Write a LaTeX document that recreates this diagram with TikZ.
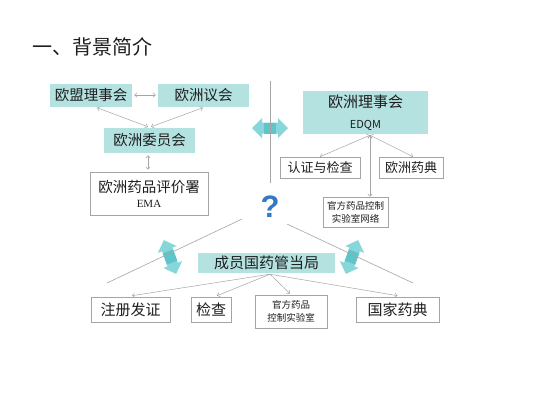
\documentclass[tikz,border=0pt]{standalone}
\usepackage{fontspec}
\setmainfont{Liberation Serif}
\newfontfamily\cjk{Noto Sans CJK SC}
\newfontfamily\qfont{Liberation Sans}
\usetikzlibrary{arrows.meta}
\definecolor{tealbox}{RGB}{180,226,225}
\definecolor{tealarr}{RGB}{135,215,218}
\definecolor{tealdark}{RGB}{95,197,202}
\definecolor{linegray}{RGB}{165,165,165}
\definecolor{txt}{RGB}{30,30,30}
\definecolor{qblue}{RGB}{52,120,196}
\tikzset{
  dblarrow/.pic={
    \fill[tealarr] (-18,0) -- (-8,-10) -- (-8,-5.5) -- (8,-5.5) -- (8,-10) -- (18,0)
      -- (8,10) -- (8,5.5) -- (-8,5.5) -- (-8,10) -- cycle;
    \fill[tealdark] (-6,-5.5) rectangle (6,5.5);
  },
  tbox/.style={fill=tealbox, inner sep=0pt, text=txt, align=center,
    font=\cjk\fontsize{14.5}{16}\selectfont},
  wbox/.style={draw=linegray, line width=0.6pt, fill=white, inner sep=0pt,
    text=txt, align=center},
  conn/.style={draw=linegray, line width=0.5pt,
    {Straight Barb[length=2.5pt,width=4.5pt]}-{Straight Barb[length=2.5pt,width=4.5pt]}},
  oneway/.style={draw=linegray, line width=0.5pt,
    -{Straight Barb[length=2.5pt,width=4.5pt]}},
  gline/.style={draw=linegray, line width=0.6pt},
}
\begin{document}
\begin{tikzpicture}[x=1pt,y=-1pt]
\fill[white] (0,0) rectangle (533,400);
\useasboundingbox (0,0) rectangle (533,400);

% title
\node[anchor=west, inner sep=0pt, text=txt, font=\cjk\fontsize{20}{22}\selectfont] (title) at (32,46.5) {一、背景简介};

% big teal arrows
\pic at (270,128) {dblarrow};
\pic[rotate=-70] at (170,257) {dblarrow};
\pic[rotate=70] at (352,257) {dblarrow};

% gray lines
\coordinate (v1) at (270,81);
\coordinate (v2) at (270,183);
\coordinate (l1a) at (242,219);
\coordinate (l1b) at (107,283);
\coordinate (l2a) at (287,224);
\coordinate (l2b) at (413,283);
\draw[gline] (v1) -- (v2);
\draw[gline] (l1a) -- (l1b);
\draw[gline] (l2a) -- (l2b);

% EU side
\node[tbox, minimum width=82pt, minimum height=23pt] (eu1) at (91,95) {欧盟理事会};
\node[tbox, minimum width=91pt, minimum height=23pt] (eu2) at (203.5,95) {欧洲议会};
\node[tbox, minimum width=91pt, minimum height=25pt] (ec) at (149.5,140.5) {欧洲委员会};
\node[wbox, minimum width=118pt, minimum height=43pt] (ema) at (149,193.5)
  {{\cjk\fontsize{14.5}{16}\selectfont 欧洲药品评价署}\\[3pt]{\fontsize{11}{12}\selectfont EMA}};

\draw[conn] ([xshift=2pt]eu1.east) -- ([xshift=-2pt]eu2.west);
\draw[conn] ([xshift=6pt,yshift=-1pt]eu1.south) -- ([xshift=-1.5pt,yshift=1pt]ec.north);
\draw[conn] ([xshift=-0.5pt,yshift=-1pt]eu2.south) -- ([xshift=1.5pt,yshift=1pt]ec.north);
\draw[conn] ([xshift=-1.5pt,yshift=-2pt]ec.south) -- ([xshift=-1pt,yshift=2pt]ema.north);

% Council of Europe side
\node[tbox, minimum width=125pt, minimum height=43pt] (edqm) at (365.5,112.5)
  {\raisebox{0pt}[14pt][0pt]{}{\cjk\fontsize{15}{16}\selectfont 欧洲理事会}\\[5pt]{\fontsize{11}{12}\selectfont EDQM}};
\node[wbox, minimum width=80pt, minimum height=21pt, font=\cjk\fontsize{13}{14}\selectfont] (cert) at (320,167.5) {认证与检查};
\node[wbox, minimum width=64pt, minimum height=21pt, font=\cjk\fontsize{13}{14}\selectfont] (ph) at (411,167.5) {欧洲药典};
\node[wbox, minimum width=65pt, minimum height=30pt, font=\cjk\fontsize{9.5}{13}\selectfont] (lab) at (355.5,212) {官方药品控制\\实验室网络};

\draw[conn] ([xshift=4.5pt,yshift=-1pt]edqm.south) -- (cert.north);
\draw[conn] ([xshift=4.5pt,yshift=-1pt]edqm.south) -- ([xshift=2pt]ph.north);
\draw[conn] ([xshift=4.5pt,yshift=-1pt]edqm.south) -- ([xshift=14.5pt]lab.north);

% question mark
\node[inner sep=0pt, text=qblue, font=\qfont\bfseries\fontsize{31}{31}\selectfont] (q) at (270,207) {?};

% member states
\node[tbox, minimum width=137pt, minimum height=20pt, font=\cjk\fontsize{15}{16}\selectfont] (msa) at (266.5,263) {成员国药管当局};
\node[wbox, minimum width=79pt, minimum height=25pt, font=\cjk\fontsize{15}{16}\selectfont] (b1) at (130.5,309.5) {注册发证};
\node[wbox, minimum width=40pt, minimum height=25pt, font=\cjk\fontsize{15}{16}\selectfont] (b2) at (211,309.5) {检查};
\node[wbox, minimum width=72pt, minimum height=33pt, font=\cjk\fontsize{9.5}{12.5}\selectfont] (b3) at (291,311.5) {官方药品\\控制实验室};
\node[wbox, minimum width=83pt, minimum height=25pt, font=\cjk\fontsize{15}{16}\selectfont] (b4) at (397.5,309.5) {国家药典};

\draw[oneway] ([xshift=3.5pt,yshift=-1pt]msa.south) -- ([xshift=1.5pt,yshift=1pt]b1.north);
\draw[oneway] ([xshift=3.5pt,yshift=-1pt]msa.south) -- ([xshift=6pt,yshift=1pt]b2.north);
\draw[oneway] ([xshift=3.5pt,yshift=-1pt]msa.south) -- ([xshift=-1pt,yshift=1pt]b3.north);
\draw[oneway] ([xshift=3.5pt,yshift=-1pt]msa.south) -- ([yshift=1pt]b4.north);
\end{tikzpicture}
\end{document}
